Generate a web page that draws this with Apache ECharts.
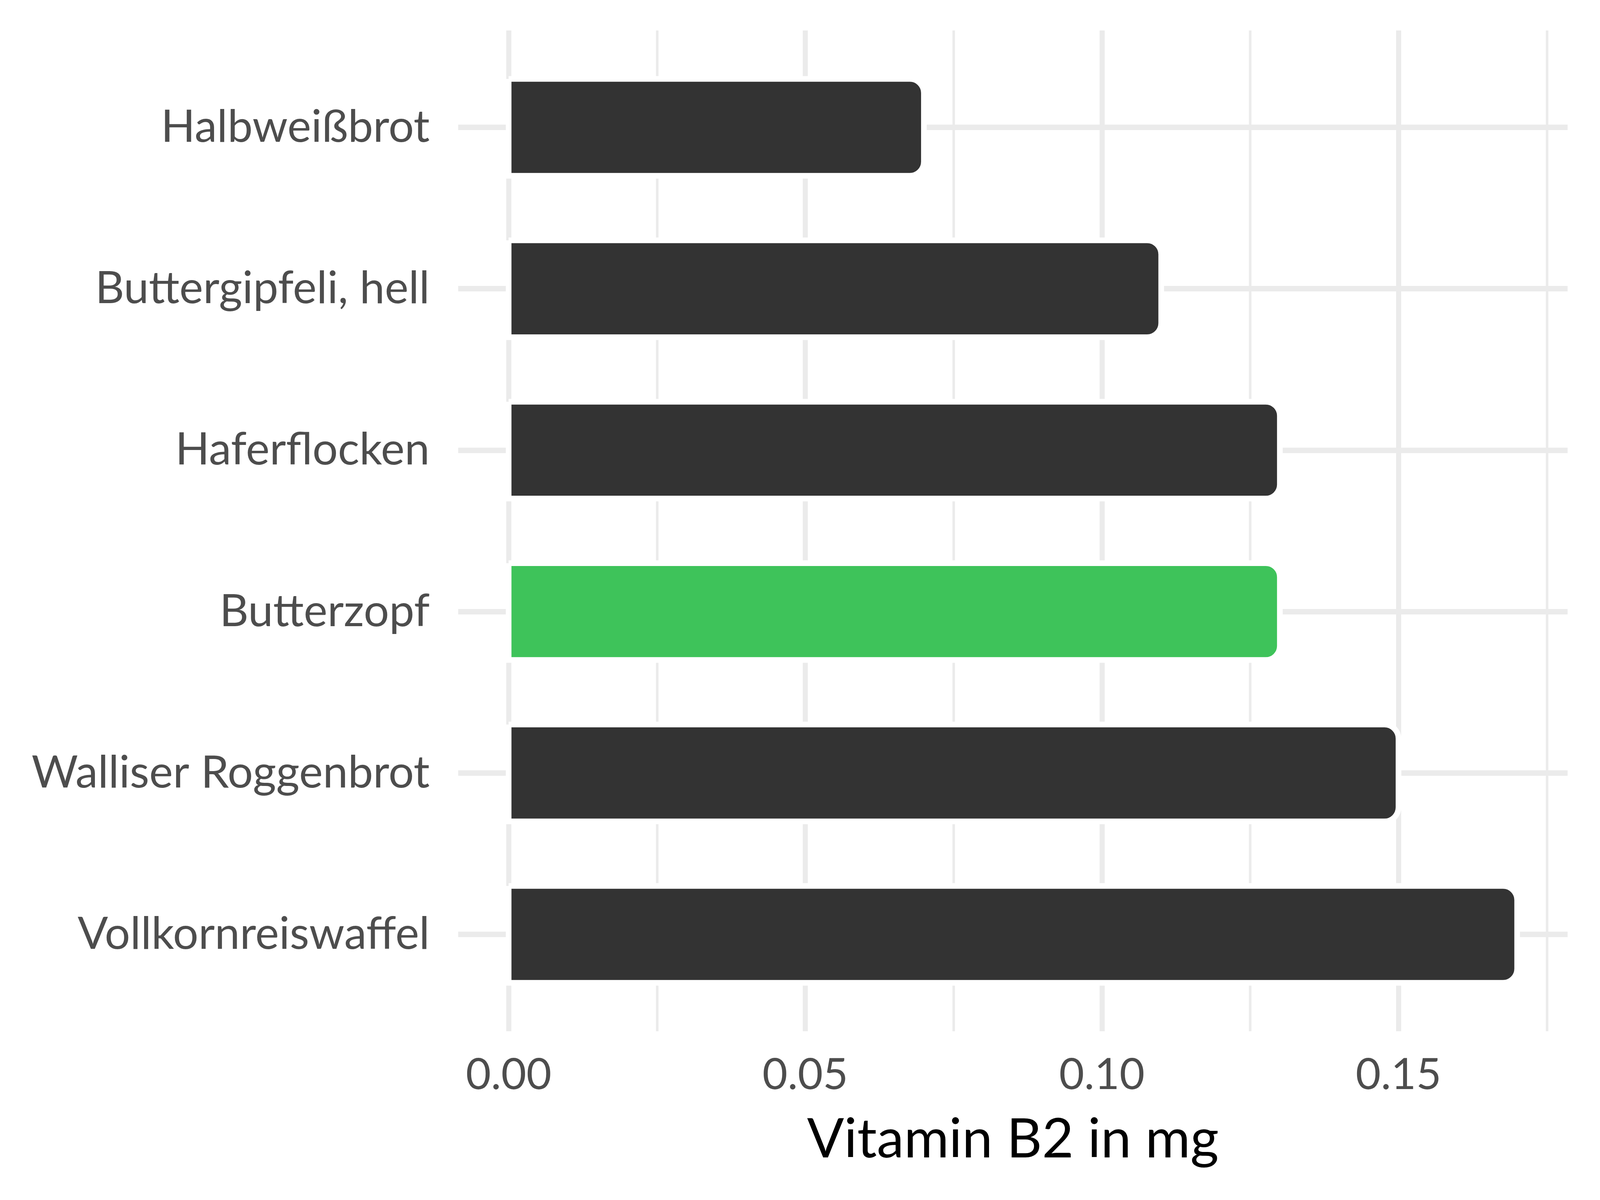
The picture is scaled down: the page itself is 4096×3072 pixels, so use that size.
<!DOCTYPE html>
<html>
<head>
<meta charset="utf-8">
<script src="https://cdn.jsdelivr.net/npm/echarts@6/dist/echarts.min.js"></script>
<style>
html,body{margin:0;padding:0;background:#ffffff;}
#chart{width:4096px;height:3072px;}
</style>
</head>
<body>
<div id="chart"></div>
<script>
// Data
const categories = ['Halbweißbrot', 'Buttergipfeli, hell', 'Haferflocken', 'Butterzopf', 'Walliser Roggenbrot', 'Vollkornreiswaffel'];
const values = [0.07, 0.11, 0.13, 0.13, 0.15, 0.17];
const highlighted = ['Butterzopf'];
const majorTicks = [0, 0.05, 0.10, 0.15];
const minorTicks = [0.025, 0.075, 0.125, 0.175];
const tickLabels = ['0.00', '0.05', '0.10', '0.15'];
const axisTitle = 'Vitamin B2 in mg';

const xMin = -0.0085, xMax = 0.1785;
const catPositions = categories.map((c, i) => i + 1);

const FONT = 'Lato';
const chart = echarts.init(document.getElementById('chart'), null, {renderer: 'canvas'});

const panel = {left: 1173, right: 83, top: 78, height: 2562};
const band = panel.height / (categories.length + 0.2);
const barGrid = {left: panel.left, right: panel.right, top: panel.top + 0.1 * band, height: band * categories.length};

const option = {
  backgroundColor: '#ffffff',
  animation: false,
  grid: [
    {left: panel.left, right: panel.right, top: panel.top, height: panel.height, containLabel: false},
    {left: barGrid.left, right: barGrid.right, top: barGrid.top, height: barGrid.height, containLabel: false}
  ],
  xAxis: [
    { // major vertical grid + labels + title
      type: 'value', gridIndex: 0, min: xMin, max: xMax,
      axisLine: {show: false}, axisTick: {show: false, customValues: majorTicks},
      splitLine: {show: true, lineStyle: {color: '#ebebeb', width: 13}},
      axisLabel: {
        show: true, customValues: majorTicks, margin: 112, verticalAlign: 'middle',
        formatter: v => tickLabels[majorTicks.findIndex(t => Math.abs(t - v) < 1e-9)],
        color: '#4d4d4d', fontFamily: FONT, fontSize: 111
      },
      name: axisTitle, nameLocation: 'middle', nameGap: 278,
      nameTextStyle: {color: '#000000', fontFamily: FONT, fontSize: 140, verticalAlign: 'middle'}
    },
    { // minor vertical grid
      type: 'value', gridIndex: 0, min: xMin, max: xMax,
      axisLine: {show: false}, axisTick: {show: false, customValues: minorTicks},
      axisLabel: {show: false},
      splitLine: {show: true, lineStyle: {color: '#ebebeb', width: 6.5}}
    },
    { // bar axis
      type: 'value', gridIndex: 1, min: xMin, max: xMax, show: false,
      splitLine: {show: false}
    }
  ],
  yAxis: [
    { // horizontal grid lines at category centres
      type: 'value', gridIndex: 0, min: 0.4, max: categories.length + 0.6, inverse: true,
      axisLine: {show: false}, axisTick: {show: false, customValues: catPositions},
      axisLabel: {show: false},
      splitLine: {show: true, lineStyle: {color: '#ebebeb', width: 14}}
    },
    { // categories
      type: 'category', gridIndex: 1, data: categories, inverse: true,
      axisLine: {show: false}, axisTick: {show: false}, splitLine: {show: false},
      axisLabel: {
        margin: 73, align: 'right', verticalAlign: 'middle',
        color: '#4d4d4d', fontFamily: FONT, fontSize: 115
      }
    }
  ],
  series: [{
    type: 'custom', xAxisIndex: 2, yAxisIndex: 1,
    encode: {x: 0, y: 1},
    data: values.map((v, i) => [v, i]),
    renderItem: function (params, api) {
      const idx = api.value(1);
      const start = api.coord([0, idx]);
      const end = api.coord([api.value(0), idx]);
      const h = api.size([0, 1])[1] * 0.6;
      const fill = highlighted.includes(categories[idx]) ? '#3ec35a' : '#333333';
      return {
        type: 'rect',
        shape: {x: start[0], y: start[1] - h / 2, width: end[0] - start[0], height: h, r: [0, 36, 36, 0]},
        style: {fill: fill, stroke: '#ffffff', lineWidth: 14.5}
      };
    }
  }]
};
chart.setOption(option);
</script>
</body>
</html>
